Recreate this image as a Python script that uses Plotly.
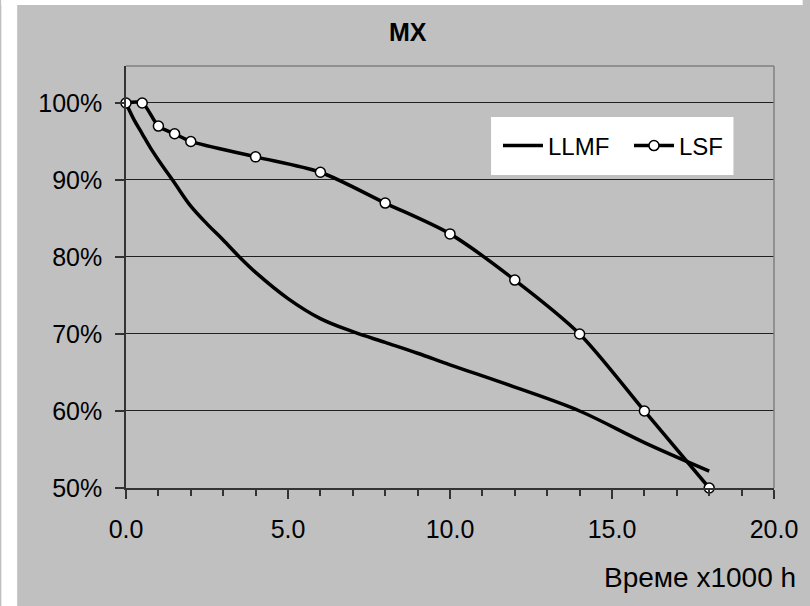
import plotly.graph_objects as go

# LLMF curve (no markers)
llmf_x = [0, 0.25, 0.5, 0.75, 1, 1.5, 2, 2.5, 3, 3.5, 4, 5, 6, 7, 8, 9, 10, 12, 14, 16, 18]
llmf_y = [1.00, 0.978, 0.96, 0.942, 0.926, 0.896, 0.866, 0.843, 0.822, 0.80, 0.78, 0.746,
          0.72, 0.703, 0.689, 0.675, 0.66, 0.631, 0.60, 0.559, 0.522]

# LSF points (with markers)
lsf_x = [0, 0.5, 1, 1.5, 2, 4, 6, 8, 10, 12, 14, 16, 18]
lsf_y = [1.00, 1.00, 0.97, 0.96, 0.95, 0.93, 0.91, 0.87, 0.83, 0.77, 0.70, 0.60, 0.50]

W, H = 810, 606
L, R, T, B = 126, 29, 66, 118
pw, ph = W - L - R, H - T - B


# pixel -> paper helpers
def px(x):
    return (x - L) / pw


def py(y):
    return (H - B - y) / ph


FONT = "Liberation Sans, Arial, sans-serif"

fig = go.Figure()
fig.add_trace(go.Scatter(x=llmf_x, y=llmf_y, name="LLMF", mode="lines", cliponaxis=False,
                         line=dict(color="black", width=3.5, shape="spline", smoothing=1)))
fig.add_trace(go.Scatter(x=lsf_x, y=lsf_y, name="LSF", mode="lines+markers", cliponaxis=False,
                         line=dict(color="black", width=3.5, shape="spline", smoothing=0.8),
                         marker=dict(symbol="circle", size=10, color="white",
                                     line=dict(color="black", width=1.5))))

shapes = [
    # white strips left and top of the grey chart area
    dict(type="rect", xref="paper", yref="paper", x0=px(0), x1=px(16), y0=py(H), y1=py(0),
         fillcolor="white", line=dict(width=0), layer="below"),
    dict(type="rect", xref="paper", yref="paper", x0=px(0), x1=px(W), y0=py(5), y1=py(0),
         fillcolor="white", line=dict(width=0), layer="below"),
    # grey top/right frame of plot area
    dict(type="line", xref="paper", yref="paper", x0=0, x1=1, y0=1, y1=1,
         line=dict(color="#808080", width=1.5)),
    dict(type="line", xref="paper", yref="paper", x0=1, x1=1, y0=0, y1=1,
         line=dict(color="#808080", width=1.5)),
    # legend box
    dict(type="rect", xref="paper", yref="paper", x0=px(495), x1=px(740), y0=py(175), y1=py(117),
         fillcolor="white", line=dict(width=0), layer="above"),
]

fig.update_layout(
    width=W, height=H,
    margin=dict(l=L, r=R, t=T, b=B),
    paper_bgcolor="#c0c0c0",
    plot_bgcolor="#c0c0c0",
    font=dict(family=FONT, size=25, color="black"),
    showlegend=True,
    legend=dict(orientation="h", x=px(502), y=py(146), xanchor="left", yanchor="middle",
                bgcolor="rgba(0,0,0,0)", font=dict(size=24), itemwidth=40,
                entrywidth=76, tracegroupgap=0),
    shapes=shapes,
    annotations=[
        dict(text="<b>MX</b>", xref="paper", yref="paper", x=px(411), y=py(32),
             xanchor="center", yanchor="middle", showarrow=False, font=dict(size=25)),
        dict(text="Време x1000 h", xref="paper", yref="paper", x=px(805), y=py(577),
             xanchor="right", yanchor="middle", showarrow=False, font=dict(size=28)),
    ],
)

fig.update_xaxes(range=[0, 20], dtick=5, tick0=0, tickformat=".1f",
                 showgrid=False, zeroline=False,
                 showline=True, linecolor="#333333", linewidth=1.5,
                 ticks="outside", ticklen=9, tickcolor="#333333", tickwidth=1.5,
                 minor=dict(dtick=1, ticks="outside", ticklen=6, tickcolor="#333333",
                            tickwidth=1.5, showgrid=False),
                 ticklabelstandoff=9)
fig.update_yaxes(range=[0.5, 1.048], tickvals=[0.5, 0.6, 0.7, 0.8, 0.9, 1.0], tickformat=".0%",
                 showgrid=True, gridcolor="#202020", gridwidth=1.2,
                 zeroline=False,
                 showline=True, linecolor="#333333", linewidth=1.5,
                 ticks="outside", ticklen=9, tickcolor="#333333", tickwidth=1.5,
                 ticklabelstandoff=8)

# drop the default 8px page margin so the chart fills the window exactly
fig.write_html("out.html", config={"displayModeBar": False},
               post_script="document.body.style.margin = '0px';")
